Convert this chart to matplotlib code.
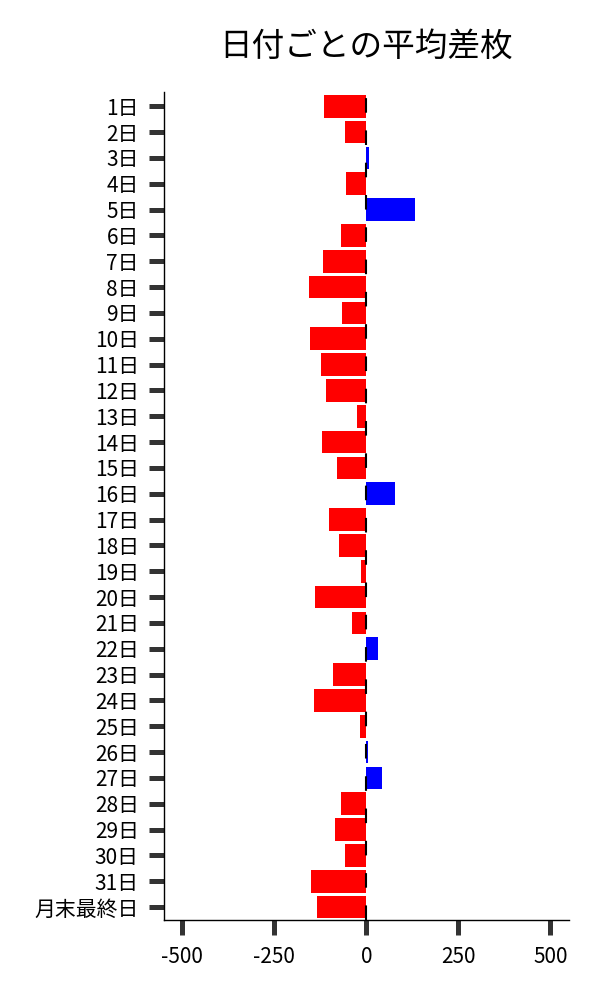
import numpy as np
import matplotlib
matplotlib.use("Agg")
import matplotlib.pyplot as plt

plt.rcParams['font.family'] = ['Noto Sans CJK JP', 'DejaVu Sans']
plt.rcParams['axes.unicode_minus'] = False

days = [f"{i}日" for i in range(1, 32)] + ["月末最終日"]
diff = [-114, -57, 8, -54, 133, -68, -117, -155, -65, -152,
        -122, -109, -24, -119, -79, 79, -100, -73, -14, -139,
        -38, 33, -90, -141, -16, 5, 43, -68, -84, -57,
        -149, -133]

colors = ["#0000ff" if v > 0 else "#ff0000" for v in diff]

fig = plt.figure(figsize=(6, 10), dpi=100)
ax = fig.add_axes([0.273, 0.08, 0.675, 0.828])

y = np.arange(len(days))
ax.barh(y, diff, height=0.88, color=colors)
ax.axvline(0, color="black", lw=1.5, dashes=(7, 8.5))

ax.set_yticks(y)
ax.set_yticklabels(days)
ax.set_ylim(len(days) - 0.5, -0.55)
ax.set_xlim(-550, 550)
ax.set_xticks([-500, -250, 0, 250, 500])

ax.tick_params(axis="both", length=11, width=3.6, color="#333333",
               labelsize=15, labelcolor="black")
ax.tick_params(axis="y", pad=7)
ax.tick_params(axis="x", pad=8)

for s in ["top", "right"]:
    ax.spines[s].set_visible(False)
for s in ["left", "bottom"]:
    ax.spines[s].set_linewidth(1.0)
    ax.spines[s].set_color("black")

ax.set_title("日付ごとの平均差枚", fontsize=23.5, pad=26)

fig.savefig("out.png", dpi=100)
